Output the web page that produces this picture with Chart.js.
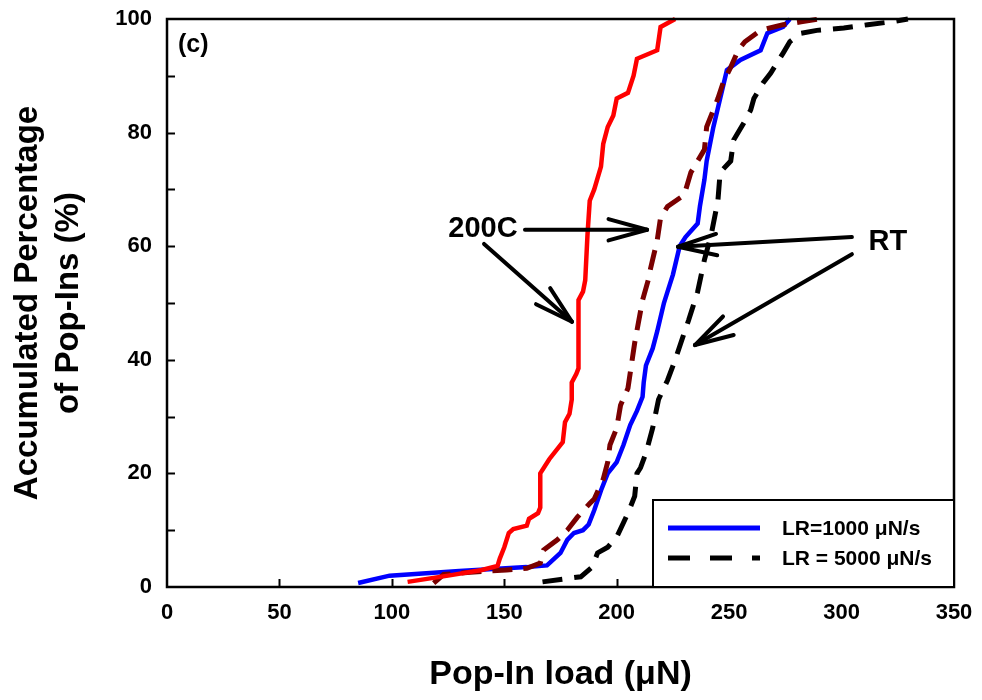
<!DOCTYPE html>
<html>
<head>
<meta charset="utf-8">
<script src="https://cdn.jsdelivr.net/npm/chart.js@4"></script>
<style>
  html, body { margin: 0; padding: 0; background: #fff; }
  #wrap { width: 982px; height: 700px; }
</style>
</head>
<body>
<div id="wrap"><canvas id="popin"></canvas></div>
<script>
// pop-in load (uN) vs accumulated percentage (%)
const rt1000 = [[85,0.7],[99,2],[130,2.8],[160,3.5],[169,3.8],[175,6],[178,8.3],[181,9.5],[185,10],[187.5,11],[190,13.5],[193,17],[196,20],[200,22],[203,25],[206,28.5],[209,31],[211.5,33.5],[212,36],[213,39],[216,42],[218,45],[221,50],[222.6,52],[225,55],[228,60],[230.6,61.6],[236,64],[237,67],[239,71.7],[240,75],[243,81],[246,86],[249,91],[255,92.8],[264,94.5],[267,97.5],[274,98.6],[277,100]];
const rt5000 = [[167,0.9],[178,1.5],[184,1.8],[189,3.5],[191.5,6],[196,7],[200,8.8],[205,13],[208,16],[209,20],[210.6,21],[213,23.6],[216,28],[218.6,33],[222.6,36.4],[226,40],[230,44.7],[232,47],[236,52],[239,57.6],[242,62],[245,68],[246,73],[250.7,75],[252,78.7],[256.5,81.7],[259.6,84],[261,86],[265,88.7],[268.5,90.5],[274,94],[277,96],[282,97.5],[289,98],[301,98.4],[311.6,99],[322,99.5],[329.5,100]];
const hot1000 = [[107,0.9],[125,2],[140,3],[147,3.7],[148,5],[150,7],[152,9.5],[154,10.2],[160,10.8],[161,12],[165,13],[166,14],[166,20],[170,22.5],[176,25.5],[177,29],[179,30.5],[180,33],[180,36],[182,37.5],[183,38.5],[183,50.5],[185,52],[186,54],[187,62],[188,68],[190,70],[193,74],[194,78],[196,81],[198.5,83],[200,86],[205,87],[207.5,90],[209,93],[218,94.5],[219.5,98.6],[226,100]];
const hot5000 = [[118.6,0.7],[123,2.2],[135,2.6],[151,3],[160,3.3],[166,4.2],[167.5,6.5],[173.6,8.3],[178,10],[182.5,12.3],[188,14.7],[190,15.5],[194,19],[196,22],[197,25],[200,28],[201.7,32],[205,35],[208,43],[211.5,50.5],[214,54],[215,56],[218,61],[219.5,65],[222.6,67],[230,69],[233,73],[239,77],[240,81],[245,86],[247.5,89],[250.7,91.5],[254,94.5],[257,96],[264,98],[274,99],[282,99.5],[290,100]];

const legendLabels = ["LR=1000 \u03bcN/s", "LR = 5000 \u03bcN/s"];

// annotation text + arrows, in data units
const notes = [
  { text: "(c)", x: 4.9, y: 95.4, align: "left", size: 25 },
  { text: "200C", x: 140.5, y: 63, align: "center", size: 29 },
  { text: "RT", x: 320.6, y: 60.7, align: "center", size: 29 },
];
const arrows = [
  [159.2, 62.9, 213.5, 62.9],
  [141, 60.4, 180.1, 46.7],
  [304.6, 61.6, 227.3, 59.9],
  [304.6, 58.6, 234.8, 42.6],
];

const FONT = "'Liberation Sans', Arial, sans-serif";
const toXY = (arr) => arr.map((p) => ({ x: p[0], y: p[1] }));

const figPlugin = {
  id: "figExtras",
  afterDraw(chart) {
    const { ctx, chartArea: a, scales } = chart;
    const sx = scales.x, sy = scales.y;
    ctx.save();
    ctx.strokeStyle = "#000";
    ctx.lineCap = "butt";

    // inward ticks
    ctx.lineWidth = 2;
    for (let v = 10; v < 100; v += 10) {
      const py = Math.round(sy.getPixelForValue(v)) + 0.5;
      ctx.beginPath(); ctx.moveTo(a.left, py); ctx.lineTo(a.left + 8, py); ctx.stroke();
    }
    for (let v = 50; v < 350; v += 50) {
      const px = Math.round(sx.getPixelForValue(v)) + 0.5;
      ctx.beginPath(); ctx.moveTo(px, a.bottom); ctx.lineTo(px, a.bottom - 8); ctx.stroke();
    }

    // frame
    ctx.lineWidth = 2.5;
    ctx.strokeRect(a.left, a.top, a.right - a.left, a.bottom - a.top);

    // legend box
    const lx = a.right - 301, ly = a.bottom - 87;
    ctx.fillStyle = "#fff";
    ctx.fillRect(lx, ly, 301, 87);
    ctx.lineWidth = 2;
    ctx.strokeRect(lx, ly, 301, 87);
    const rows = [
      { color: "#0000ff", dash: [], y: ly + 28 },
      { color: "#000", dash: [22, 20], y: ly + 58 },
    ];
    ctx.font = "bold 21px " + FONT;
    ctx.textBaseline = "middle";
    ctx.textAlign = "left";
    rows.forEach((r, i) => {
      ctx.strokeStyle = r.color;
      ctx.lineWidth = 5;
      ctx.setLineDash(r.dash);
      ctx.beginPath(); ctx.moveTo(lx + 15, r.y); ctx.lineTo(lx + 107, r.y); ctx.stroke();
      ctx.setLineDash([]);
      ctx.fillStyle = "#000";
      ctx.fillText(legendLabels[i], lx + 129, r.y + 1);
    });

    // notes
    ctx.fillStyle = "#000";
    notes.forEach((n) => {
      ctx.font = "bold " + n.size + "px " + FONT;
      ctx.textAlign = n.align;
      ctx.fillText(n.text, sx.getPixelForValue(n.x), sy.getPixelForValue(n.y));
    });

    // arrows with open heads
    ctx.strokeStyle = "#000";
    ctx.lineWidth = 4;
    ctx.lineCap = "round";
    arrows.forEach(([x0, y0, x1, y1]) => {
      const p0 = [sx.getPixelForValue(x0), sy.getPixelForValue(y0)];
      const p1 = [sx.getPixelForValue(x1), sy.getPixelForValue(y1)];
      const ang = Math.atan2(p1[1] - p0[1], p1[0] - p0[0]);
      ctx.beginPath(); ctx.moveTo(p0[0], p0[1]); ctx.lineTo(p1[0], p1[1]); ctx.stroke();
      [-0.27, 0.27].forEach((d) => {
        ctx.beginPath();
        ctx.moveTo(p1[0], p1[1]);
        ctx.lineTo(p1[0] - 40 * Math.cos(ang + d), p1[1] - 40 * Math.sin(ang + d));
        ctx.stroke();
      });
    });
    ctx.restore();
  },
};

const line = (label, pts, color, dash, width) => ({
  label,
  data: toXY(pts),
  borderColor: color,
  borderWidth: width,
  borderDash: dash,
  pointRadius: 0,
  tension: 0,
  fill: false,
  clip: false,
});

new Chart(document.getElementById("popin").getContext("2d"), {
  type: "line",
  data: {
    datasets: [
      line("200C, LR=1000 \u03bcN/s", hot1000, "#ff0000", [], 4.5),
      line("200C, LR=5000 \u03bcN/s", hot5000, "#7a0000", [20, 11], 5),
      line(legendLabels[0], rt1000, "#0000ff", [], 4.5),
      line(legendLabels[1], rt5000, "#000000", [20, 12], 5),
    ],
  },
  plugins: [figPlugin],
  options: {
    responsive: true,
    maintainAspectRatio: false,
    animation: false,
    layout: { padding: { top: 19, right: 28, left: 0, bottom: 0 } },
    plugins: { legend: { display: false }, tooltip: { enabled: false } },
    scales: {
      x: {
        type: "linear",
        min: 0,
        max: 350,
        grid: { display: false, drawTicks: false },
        border: { display: false },
        ticks: { stepSize: 50, color: "#000", padding: 13, font: { family: FONT, size: 22, weight: "bold" } },
        title: {
          display: true,
          text: "Pop-In load (\u03bcN)",
          color: "#000",
          padding: { top: 0, bottom: 5 },
          font: { family: FONT, size: 34, weight: "bold" },
        },
        afterFit: (s) => { s.height = 113; s.paddingLeft = 0; s.paddingRight = 0; },
      },
      y: {
        min: 0,
        max: 100,
        grid: { display: false, drawTicks: false },
        border: { display: false },
        ticks: { stepSize: 20, color: "#000", padding: 15, font: { family: FONT, size: 22, weight: "bold" } },
        title: {
          display: true,
          text: ["Accumulated Percentage", "of Pop-Ins (%)"],
          color: "#000",
          padding: { top: 7, bottom: 0 },
          font: { family: FONT, size: 33, weight: "bold", lineHeight: 1.25 },
        },
        afterFit: (s) => { s.width = 167; s.paddingTop = 0; s.paddingBottom = 0; },
      },
    },
  },
});
</script>
</body>
</html>
